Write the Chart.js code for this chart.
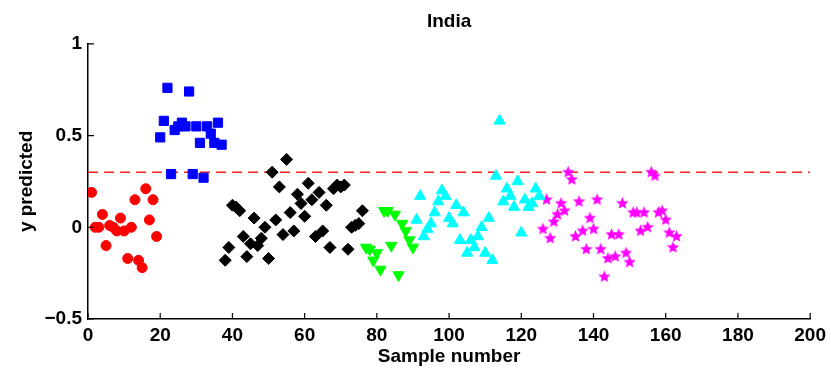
<!DOCTYPE html>
<html>
<head>
<meta charset="utf-8">
<script src="https://cdn.jsdelivr.net/npm/chart.js@4"></script>
<style>
  html, body { margin: 0; padding: 0; background: #fff; }
  canvas { display: block; }
</style>
</head>
<body>
<canvas id="chart1" width="831" height="370"></canvas>
<script>
// y predicted per sample; each group runs on from its first sample number
const redStart = 1;
const redY = [0.19, 0.0, 0.0, 0.07, -0.1, 0.01, 0.0, -0.02, 0.05, -0.02,
              -0.17, 0.0, 0.15, -0.18, -0.22, 0.21, 0.04, 0.15, -0.05];
const blueStart = 20;
const blueY = [0.49, 0.58, 0.76, 0.29, 0.53, 0.55, 0.57, 0.55, 0.74, 0.29,
               0.55, 0.46, 0.27, 0.55, 0.51, 0.46, 0.57, 0.45];
const blackStart = 38;
const blackY = [-0.18, -0.11, 0.12, 0.11, 0.09, -0.05, -0.16, -0.09, 0.05, -0.10,
                -0.06, 0.0, -0.17, 0.30, 0.04, 0.22, -0.04, 0.37, 0.08, -0.02,
                0.18, 0.13, 0.06, 0.24, 0.15, -0.05, 0.19, -0.02, 0.12, -0.11,
                0.21, 0.23, 0.22, 0.23, -0.12, 0.0, 0.01, 0.02, 0.09];
const greenStart = 77;
const greenY = [-0.11, -0.12, -0.18, -0.14, -0.23, 0.09, 0.09, -0.10, 0.07, -0.26,
                0.02, -0.02, -0.07, -0.11];
const cyanStart = 91;
const cyanY = [0.04, 0.17, -0.05, -0.01, 0.02, 0.08, 0.14, 0.20, 0.17, 0.05,
               0.02, 0.12, -0.07, 0.08, -0.14, -0.07, -0.11, -0.05, 0.0, -0.14,
               0.05, -0.18, 0.28, 0.58, 0.14, 0.21, 0.17, 0.11, 0.25, -0.03,
               0.15, 0.11, 0.13, 0.21, 0.17];
const magentaStart = 126;
const magentaY = [-0.01, 0.15, -0.06, 0.03, 0.07, 0.13, 0.09, 0.30, 0.26, -0.05,
                  0.14, -0.02, -0.12, 0.05, -0.01, 0.15, -0.12, -0.27, -0.17, -0.04,
                  -0.16, -0.04, 0.13, -0.14, -0.19, 0.08, 0.08, -0.02, 0.08, 0.0,
                  0.30, 0.28, 0.08, 0.09, 0.04, -0.03, -0.11, -0.05];
const threshold = 0.3;
const xTicks = [0, 20, 40, 60, 80, 100, 120, 140, 160, 180, 200];
const yTicks = [-0.5, 0, 0.5, 1];

const toPoints = (start, ys) => ys.map((y, i) => ({ x: start + i, y: y }));

// filled five point star, chart.js 'star' is only strokes
function starCanvas(color, R) {
    const s = Math.ceil(R * 2) + 2;
    const c = document.createElement('canvas');
    c.width = s; c.height = s;
    const g = c.getContext('2d');
    g.fillStyle = color;
    g.beginPath();
    for (let i = 0; i < 10; i++) {
        const r = i % 2 ? R * 0.45 : R;
        const a = -Math.PI / 2 + i * Math.PI / 5;
        g.lineTo(s / 2 + r * Math.cos(a), s / 2 + r * Math.sin(a));
    }
    g.closePath();
    g.fill();
    return c;
}

const font = { family: "'Liberation Sans', Arial, Helvetica, sans-serif", size: 19, weight: 'bold' };

// matlab style ticks pointing into the plot
const inwardTicks = {
    id: 'inwardTicks',
    afterDraw(chart) {
        const { ctx, chartArea, scales } = chart;
        ctx.save();
        ctx.strokeStyle = '#000';
        ctx.lineWidth = 1.2;
        ctx.beginPath();
        xTicks.forEach(v => {
            const px = scales.x.getPixelForValue(v);
            ctx.moveTo(px, chartArea.bottom);
            ctx.lineTo(px, chartArea.bottom - 6);
        });
        yTicks.forEach(v => {
            const py = scales.y.getPixelForValue(v);
            ctx.moveTo(chartArea.left, py);
            ctx.lineTo(chartArea.left + 6, py);
        });
        ctx.stroke();
        ctx.restore();
    }
};

const config = {
    type: 'scatter',
    data: {
        datasets: [{
            data: toPoints(redStart, redY),
            pointStyle: 'circle',
            radius: 5,
            backgroundColor: '#ff0000',
            borderColor: '#ff0000',
            borderWidth: 1
        }, {
            data: toPoints(blueStart, blueY),
            pointStyle: 'rect',
            radius: 6.5,
            backgroundColor: '#0000ff',
            borderColor: '#0000ff',
            borderWidth: 1
        }, {
            data: toPoints(blackStart, blackY),
            pointStyle: 'rectRot',
            radius: 6,
            backgroundColor: '#000000',
            borderColor: '#000000',
            borderWidth: 1
        }, {
            data: toPoints(greenStart, greenY),
            pointStyle: 'triangle',
            rotation: 180,
            radius: 6.5,
            backgroundColor: '#00ff00',
            borderColor: '#00ff00',
            borderWidth: 1
        }, {
            data: toPoints(cyanStart, cyanY),
            pointStyle: 'triangle',
            radius: 6.5,
            backgroundColor: '#00ffff',
            borderColor: '#00ffff',
            borderWidth: 1
        }, {
            data: toPoints(magentaStart, magentaY),
            pointStyle: starCanvas('#ff00ff', 6.5),
            radius: 6.5
        }, {
            type: 'line',
            data: [{ x: xTicks[0], y: threshold }, { x: xTicks[xTicks.length - 1], y: threshold }],
            borderColor: '#ff1a1a',
            borderWidth: 1.5,
            borderDash: [10, 6],
            pointRadius: 0,
            fill: false
        }]
    },
    options: {
        responsive: false,
        animation: false,
        layout: {
            padding: { left: 0, right: 20, top: 0, bottom: 0 }
        },
        plugins: {
            legend: { display: false },
            tooltip: { enabled: false },
            title: {
                display: true,
                text: 'India',
                fullSize: false,
                color: '#000',
                font: font,
                padding: { top: 10, bottom: 11 }
            }
        },
        scales: {
            x: {
                type: 'linear',
                min: 0,
                max: 200,
                afterFit: s => { s.height = 51; },
                afterBuildTicks: s => { s.ticks = xTicks.map(v => ({ value: v })); },
                grid: { display: false, drawTicks: false },
                border: { display: true, color: '#000', width: 1.5 },
                ticks: { color: '#000', font: font, padding: 5, maxRotation: 0 },
                title: {
                    display: true,
                    text: 'Sample number',
                    color: '#000',
                    font: font,
                    padding: { top: 0, bottom: 2 }
                }
            },
            y: {
                type: 'linear',
                min: -0.5,
                max: 1,
                afterFit: s => { s.width = 88; },
                afterBuildTicks: s => { s.ticks = yTicks.map(v => ({ value: v })); },
                grid: { display: false, drawTicks: false },
                border: { display: true, color: '#000', width: 1.5 },
                ticks: {
                    color: '#000',
                    font: font,
                    padding: 6,
                    callback: v => v < 0 ? '\u2212' + Math.abs(v) : String(v)
                },
                title: {
                    display: true,
                    text: 'y predicted',
                    color: '#000',
                    font: font,
                    padding: { top: 15, bottom: 0 }
                }
            }
        }
    },
    plugins: [inwardTicks]
};

const ctx1 = document.getElementById('chart1').getContext('2d');
const chart1 = new Chart(ctx1, config);
</script>
</body>
</html>
